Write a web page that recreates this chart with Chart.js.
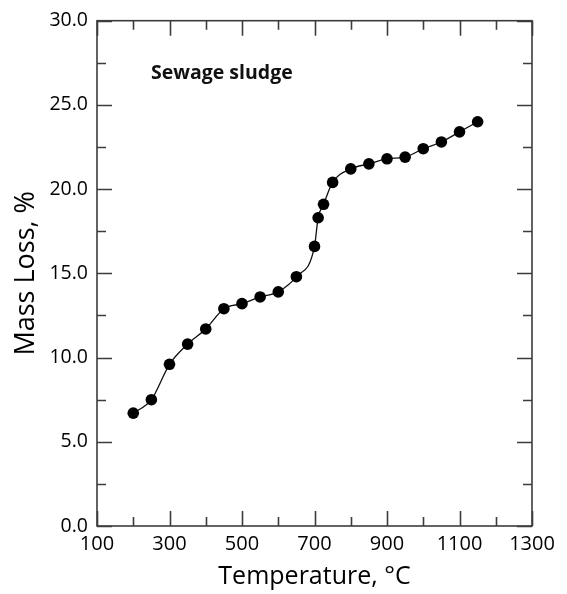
<!DOCTYPE html>
<html>
<head>
<meta charset="utf-8">
<script src="https://cdn.jsdelivr.net/npm/chart.js@4.4.0/dist/chart.umd.min.js"></script>
<style>
    html, body { margin: 0; padding: 0; background: #fff; }
</style>
</head>
<body>
<canvas id="chart" width="567" height="594"></canvas>
<script>
// Data
const temperature = [200, 250, 300, 350, 400, 450, 500, 550, 600, 650, 700, 710, 725, 750, 800, 850, 900, 950, 1000, 1050, 1100, 1150];
const massLoss = [6.7, 7.5, 9.6, 10.8, 11.7, 12.9, 13.2, 13.6, 13.9, 14.8, 16.6, 18.3, 19.1, 20.4, 21.2, 21.5, 21.8, 21.9, 22.4, 22.8, 23.4, 24.0];

// Axis ticks
const xMajorTicks = [100, 300, 500, 700, 900, 1100, 1300];
const xMinorTicks = [200, 400, 600, 800, 1000, 1200];
const yMajorTicks = [0, 5, 10, 15, 20, 25, 30];
const yMinorTicks = [2.5, 7.5, 12.5, 17.5, 22.5, 27.5];

const sampleName = 'Sewage sludge';

const FONT = '"Open Sans", Lato, sans-serif';

// Draw frame and inward ticks on all four sides, plus the sample label
const frameTicks = {
    id: 'frameTicks',
    afterDraw(chart) {
        const ctx = chart.ctx;
        const a = chart.chartArea;
        const xs = chart.scales.x;
        const ys = chart.scales.y;
        ctx.save();
        ctx.strokeStyle = '#3c3c3c';
        ctx.lineWidth = 1.6;
        ctx.strokeRect(a.left, a.top, a.right - a.left, a.bottom - a.top);

        ctx.beginPath();
        function xTick(v, len) {
            var px = Math.round(xs.getPixelForValue(v)) + 0.5;
            ctx.moveTo(px, a.bottom); ctx.lineTo(px, a.bottom - len);
            ctx.moveTo(px, a.top); ctx.lineTo(px, a.top + len);
        }
        function yTick(v, len) {
            var py = Math.round(ys.getPixelForValue(v)) + 0.5;
            ctx.moveTo(a.left, py); ctx.lineTo(a.left + len, py);
            ctx.moveTo(a.right, py); ctx.lineTo(a.right - len, py);
        }
        xMajorTicks.forEach(v => xTick(v, 15));
        xMinorTicks.forEach(v => xTick(v, 9));
        yMajorTicks.forEach(v => yTick(v, 15));
        yMinorTicks.forEach(v => yTick(v, 9));
        ctx.stroke();

        ctx.fillStyle = '#111';
        ctx.font = 'bold 19.5px ' + FONT;
        ctx.textAlign = 'left';
        ctx.textBaseline = 'alphabetic';
        ctx.fillText(sampleName, xs.getPixelForValue(249), ys.getPixelForValue(26.55));
        ctx.restore();
    }
};

new Chart(document.getElementById('chart'), {
    type: 'line',
    data: {
        datasets: [{
            label: sampleName,
            data: temperature.map((t, i) => ({ x: t, y: massLoss[i] })),
            borderColor: '#111',
            borderWidth: 1.3,
            backgroundColor: '#000',
            pointBackgroundColor: '#000',
            pointBorderColor: '#000',
            pointRadius: 5.8,
            pointBorderWidth: 0,
            cubicInterpolationMode: 'monotone',
            fill: false
        }]
    },
    options: {
        responsive: false,
        animation: false,
        layout: { padding: { top: 17, right: 35, left: 0, bottom: 0 } },
        plugins: {
            legend: { display: false },
            tooltip: { enabled: false }
        },
        scales: {
            x: {
                type: 'linear',
                min: 100,
                max: 1300,
                afterBuildTicks: s => { s.ticks = xMajorTicks.map(v => ({ value: v })); },
                afterFit: s => { s.height = 68; },
                grid: { display: false, drawTicks: false },
                border: { display: false },
                ticks: {
                    padding: 6,
                    color: '#000',
                    font: { family: FONT, size: 20 },
                    maxRotation: 0,
                    callback: v => String(v)
                },
                title: {
                    display: true,
                    text: 'Temperature, °C',
                    color: '#000',
                    font: { family: FONT, size: 25 },
                    padding: { top: 0, bottom: 2 }
                }
            },
            y: {
                min: 0,
                max: 30,
                afterBuildTicks: s => { s.ticks = yMajorTicks.map(v => ({ value: v })); },
                afterFit: s => { s.width = 97; },
                grid: { display: false, drawTicks: false },
                border: { display: false },
                ticks: {
                    padding: 9,
                    color: '#000',
                    font: { family: FONT, size: 19.5 },
                    callback: v => Number(v).toFixed(1)
                },
                title: {
                    display: true,
                    text: 'Mass Loss, %',
                    color: '#000',
                    font: { family: FONT, size: 27 },
                    padding: { top: 10, bottom: 0 }
                }
            }
        }
    },
    plugins: [frameTicks]
});
</script>
</body>
</html>
